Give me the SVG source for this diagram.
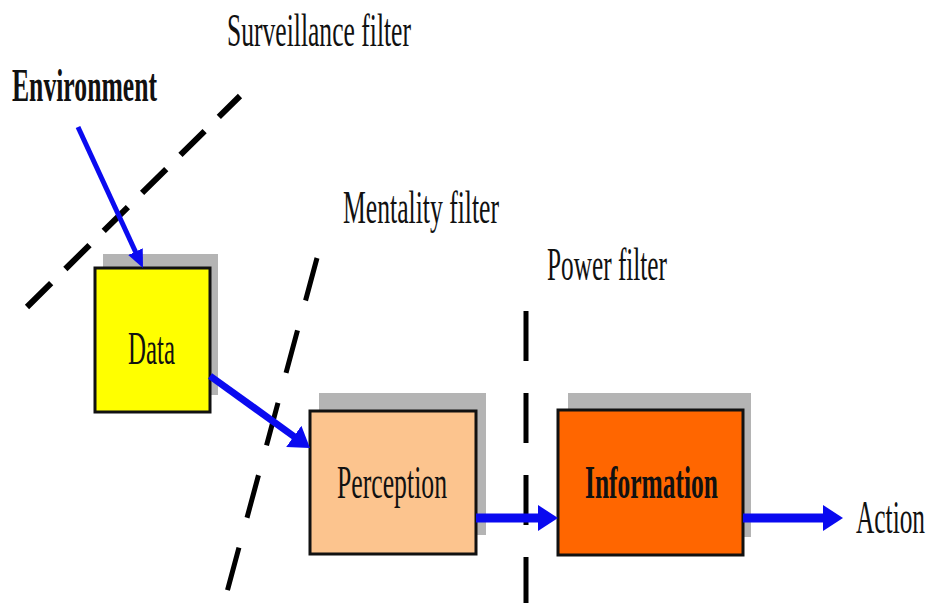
<svg xmlns="http://www.w3.org/2000/svg" width="927" height="603" viewBox="0 0 927 603">
<style>
.t{font-family:"Liberation Serif","Times New Roman",serif;fill:#111;font-size:47px}
.b{font-weight:bold}
.box{stroke:#111;stroke-width:3}
.sh{fill:#b4b4b4}
.dash{stroke:#000;fill:none}
.arr{stroke:#0a0af0;fill:none}
</style>
<defs>
<marker id="hs" markerUnits="userSpaceOnUse" markerWidth="18" markerHeight="16" refX="2" refY="8" orient="auto"><path d="M0,0 L18,8 L0,16 z" fill="#0a0af0"/></marker>
<marker id="hb" markerUnits="userSpaceOnUse" markerWidth="20" markerHeight="26" refX="2" refY="13" orient="auto"><path d="M0,0 L20,13 L0,26 z" fill="#0a0af0"/></marker>
</defs>
<rect width="927" height="603" fill="#fff"/>
<g id="filters">
<line class="dash" x1="27" y1="307" x2="240" y2="96" stroke-width="6" stroke-dasharray="34 20"/>
<line class="dash" x1="317" y1="258" x2="227" y2="592" stroke-width="5" stroke-dasharray="44 31"/>
<line class="dash" x1="526" y1="311" x2="526" y2="603" stroke-width="5" stroke-dasharray="50 32"/>
</g>
<g id="labels">
<text class="t" x="227" y="46" textLength="184" lengthAdjust="spacingAndGlyphs">Surveillance filter</text>
<text class="t" x="343" y="223" textLength="156" lengthAdjust="spacingAndGlyphs">Mentality filter</text>
<text class="t" x="547" y="280" textLength="120" lengthAdjust="spacingAndGlyphs">Power filter</text>
<text class="t b" x="12" y="101" font-size="42" textLength="145" lengthAdjust="spacingAndGlyphs">Environment</text>
<text class="t" transform="translate(856,533) scale(0.54,1)" font-size="45">Action</text>
</g>
<g id="data">
<rect class="sh" x="103" y="254" width="115" height="141"/>
<rect class="box" x="95" y="268" width="115" height="144" fill="#ffff00"/>
<text class="t" x="128" y="364" textLength="47" lengthAdjust="spacingAndGlyphs">Data</text>
</g>
<g id="perception">
<rect class="sh" x="319" y="393" width="167" height="142"/>
<rect class="box" x="310" y="411" width="166" height="143" fill="#fcc48e"/>
<text class="t" x="337" y="498" textLength="110" lengthAdjust="spacingAndGlyphs">Perception</text>
</g>
<g id="information">
<rect class="sh" x="568" y="393" width="183" height="144"/>
<rect class="box" x="558" y="410" width="185" height="145" fill="#ff6600"/>
<text class="t b" x="585" y="498" textLength="133" lengthAdjust="spacingAndGlyphs">Information</text>
</g>
<g id="connectors">
<line class="arr" x1="78" y1="127" x2="136.3" y2="253.5" stroke-width="5" marker-end="url(#hs)"/>
<line class="arr" x1="210" y1="376" x2="295.4" y2="437.5" stroke-width="7" marker-end="url(#hb)"/>
<line class="arr" x1="476" y1="518" x2="540" y2="518" stroke-width="9" marker-end="url(#hb)"/>
<line class="arr" x1="743" y1="518" x2="825" y2="518" stroke-width="9" marker-end="url(#hb)"/>
</g>
</svg>
